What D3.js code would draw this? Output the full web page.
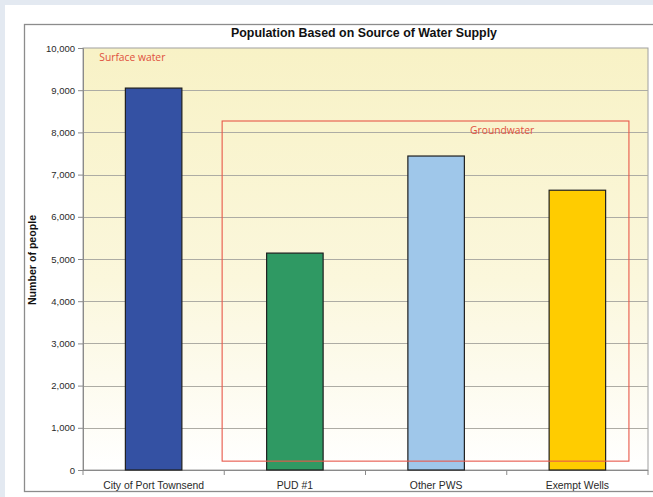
<!DOCTYPE html>
<html>
<head>
<meta charset="utf-8">
<script src="https://cdn.jsdelivr.net/npm/d3@7"></script>
<style>
  html, body { margin: 0; padding: 0; background: #e3e9f1; }
  svg { display: block; }
</style>
</head>
<body>
<script>
// Population served by each water source
const categories = ["City of Port Townsend", "PUD #1", "Other PWS", "Exempt Wells"];
const population = [9050, 5140, 7440, 6630];
const barColors = ["#3451a3", "#2f9963", "#9fc7ea", "#ffcc00"];
const yTicks = [0, 1000, 2000, 3000, 4000, 5000, 6000, 7000, 8000, 9000, 10000];

// Source groupings drawn over the bars
const surfaceLabel = "Surface water";
const groundLabel = "Groundwater";
const groundBox = { x0: 0.985, x1: 3.865, y0: 210, y1: 8270 }; // band units / people

const W = 653, H = 497;
const plot = { left: 83, right: 648, top: 48, bottom: 470 };

const svg = d3.select("body").append("svg").attr("width", W).attr("height", H);

// page + card
svg.append("rect").attr("width", W).attr("height", H).attr("fill", "#e3e9f1");
svg.append("rect").attr("x", 5).attr("y", 5).attr("width", W - 5).attr("height", H - 5).attr("fill", "#ffffff");
// chart frame
svg.append("rect").attr("x", 24.5).attr("y", 24.5).attr("width", W).attr("height", 467)
  .attr("fill", "#ffffff").attr("stroke", "#8c8c8c").attr("stroke-width", 1.3);

const defs = svg.append("defs");
const grad = defs.append("linearGradient").attr("id", "plotBg")
  .attr("x1", 0).attr("y1", 0).attr("x2", 0).attr("y2", 1);
grad.append("stop").attr("offset", "0%").attr("stop-color", "#f8f2c6");
grad.append("stop").attr("offset", "55%").attr("stop-color", "#fbf7dc");
grad.append("stop").attr("offset", "100%").attr("stop-color", "#ffffff");

const x = d3.scaleBand().domain(categories).range([plot.left, plot.right])
  .paddingInner(0.6).paddingOuter(0.3);
const xUnits = d3.scaleLinear().domain([0, categories.length]).range([plot.left, plot.right]);
const y = d3.scaleLinear().domain([0, 10000]).range([plot.bottom, plot.top]);

// plot background
svg.append("rect").attr("x", plot.left).attr("y", plot.top)
  .attr("width", plot.right - plot.left).attr("height", plot.bottom - plot.top)
  .attr("fill", "url(#plotBg)").attr("stroke", "#a0a0a0").attr("stroke-width", 1);

// gridlines
svg.append("g").selectAll("line").data(yTicks.filter(d => d > 0 && d < 10000)).join("line")
  .attr("x1", plot.left).attr("x2", plot.right)
  .attr("y1", d => Math.round(y(d)) + 0.5).attr("y2", d => Math.round(y(d)) + 0.5)
  .attr("stroke", "#adaca4").attr("stroke-width", 1);

// y axis
const yAxis = svg.append("g").attr("transform", `translate(${plot.left},0)`)
  .call(d3.axisLeft(y).tickValues(yTicks).tickFormat(d3.format(",")).tickSize(5).tickPadding(3));
yAxis.select(".domain").attr("stroke", "#8a8a8a");
yAxis.selectAll(".tick line").attr("stroke", "#8a8a8a");
yAxis.selectAll("text").attr("font-family", "Liberation Sans, Arial, sans-serif")
  .attr("font-size", 9.5).attr("fill", "#2a2a2a");

// x axis: ticks sit between categories
const xAxis = svg.append("g").attr("transform", `translate(0,${plot.bottom})`);
xAxis.append("line").attr("x1", plot.left).attr("x2", plot.right).attr("y1", 0.5).attr("y2", 0.5)
  .attr("stroke", "#8a8a8a");
xAxis.selectAll("line.sep").data(d3.range(categories.length + 1)).join("line").attr("class", "sep")
  .attr("x1", d => xUnits(d)).attr("x2", d => xUnits(d)).attr("y1", 0).attr("y2", 5)
  .attr("stroke", "#8a8a8a");
xAxis.selectAll("text").data(categories).join("text")
  .attr("x", d => x(d) + x.bandwidth() / 2).attr("y", 19)
  .attr("text-anchor", "middle")
  .attr("font-family", "Liberation Sans, Arial, sans-serif").attr("font-size", 10.4).attr("fill", "#2a2a2a")
  .text(d => d);

// bars
svg.append("g").selectAll("rect").data(categories).join("rect")
  .attr("x", d => x(d)).attr("width", x.bandwidth())
  .attr("y", (d, i) => y(population[i])).attr("height", (d, i) => y(0) - y(population[i]))
  .attr("fill", (d, i) => barColors[i]).attr("stroke", "#1f1f1f").attr("stroke-width", 1.2);

// groundwater grouping box
svg.append("rect")
  .attr("x", xUnits(groundBox.x0)).attr("y", y(groundBox.y1))
  .attr("width", xUnits(groundBox.x1) - xUnits(groundBox.x0))
  .attr("height", y(groundBox.y0) - y(groundBox.y1))
  .attr("fill", "none").attr("stroke", "#e8584a").attr("stroke-width", 1.1);

svg.append("text").attr("x", xUnits(0.115)).attr("y", 61)
  .attr("font-family", "Open Sans, sans-serif").attr("font-size", 10.3).attr("fill", "#e0503c")
  .text(surfaceLabel);
svg.append("text").attr("x", xUnits(2.74)).attr("y", 134)
  .attr("font-family", "Open Sans, sans-serif").attr("font-size", 10.3).attr("fill", "#e0503c")
  .text(groundLabel);

// title
svg.append("text").attr("x", 364).attr("y", 37).attr("text-anchor", "middle")
  .attr("font-family", "Liberation Sans, Arial, sans-serif").attr("font-weight", "bold")
  .attr("font-size", 12.4).attr("fill", "#111")
  .text("Population Based on Source of Water Supply");

// y axis title
svg.append("text").attr("transform", `translate(36,${(plot.top + plot.bottom) / 2 + 1}) rotate(-90)`)
  .attr("text-anchor", "middle")
  .attr("font-family", "Liberation Sans, Arial, sans-serif").attr("font-weight", "bold")
  .attr("font-size", 10.6).attr("fill", "#111")
  .text("Number of people");
</script>
</body>
</html>
